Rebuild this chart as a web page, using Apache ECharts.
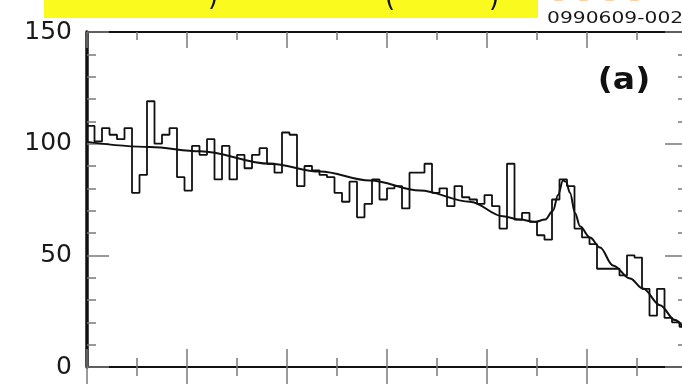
<!DOCTYPE html>
<html>
<head>
<meta charset="utf-8">
<script src="https://cdn.jsdelivr.net/npm/echarts@6/dist/echarts.min.js"></script>
<style>
  html, body { margin: 0; padding: 0; background: #ffffff; }
  #chart { width: 682px; height: 384px; }
</style>
</head>
<body>
<div id="chart"></div>
<script>
// Histogram: 80 equal bins across the x range, entries per bin
const binWidth = 0.075;
const counts = [
  108, 101, 107, 104, 102, 107, 78, 86, 119, 100,
  104, 107, 85, 79, 99, 95, 102, 84, 99, 84,
  95, 89, 95, 98, 91, 87, 105, 104, 81, 90,
  88, 86, 85, 78, 74, 83, 67, 73, 84, 75,
  80, 81, 71, 87, 87, 91, 78, 80, 72, 81,
  76, 75, 73, 77, 72, 62, 91, 66, 69, 65,
  59, 57, 75, 84, 81, 62, 58, 55, 44, 44,
  44, 41, 50, 49, 35, 23, 35, 22, 20, 18
];

// Fitted curve (background plus resonance peak)
const fitX = [0, 0.63, 1.13, 1.83, 2.33, 2.83, 3.33, 3.83, 4.16, 4.33, 4.48, 4.58,
              4.66, 4.71, 4.76, 4.79, 4.83, 4.88, 4.93, 5.03, 5.13, 5.26, 5.43,
              5.56, 5.73, 5.88, 6.0];
const fitY = [100.8, 98.5, 96.6, 91, 87.5, 83.5, 79, 74, 67.5, 66, 65, 66,
              70, 77, 83.5, 83, 78, 69, 63, 58, 53.5, 45.5, 39.6,
              35.1, 27.7, 21, 15];

const yTicks = [0, 50, 100, 150];
const plotCode = '0990609-002';
const panelLabel = '(a)';

// Step outline: one point at each bin's left edge, plus the closing edge
const histData = counts.map((c, i) => [i * binWidth, c]);
histData.push([counts.length * binWidth, counts[counts.length - 1]]);
const fitData = fitX.map((x, i) => [x, fitY[i]]);

const ink = '#111111';
const tickColor = '#7a7a7a';
const xMax = counts.length * binWidth;

const chart = echarts.init(document.getElementById('chart'), null, { renderer: 'canvas' });

const baseX = {
  type: 'value', min: 0, max: xMax, interval: 1, offset: 0,
  axisLabel: { show: false }, splitLine: { show: false }
};
const baseY = {
  type: 'value', min: yTicks[0], max: yTicks[yTicks.length - 1],
  interval: yTicks[1] - yTicks[0], offset: 0, splitLine: { show: false }
};

chart.setOption({
  backgroundColor: '#ffffff',
  animation: false,
  // the frame runs a few pixels past the right edge of the canvas
  grid: { left: 87, top: 32, width: 600, height: 335, outerBoundsMode: 'none' },
  xAxis: [
    // bottom edge, ticks pointing up into the frame
    Object.assign({}, baseX, {
      position: 'bottom',
      axisLine: { show: true, onZero: false, lineStyle: { color: ink, width: 2 } },
      axisTick: { show: true, inside: true, length: 18, lineStyle: { color: tickColor, width: 1.5 } },
      minorTick: { show: true, splitNumber: 2, length: 9, lineStyle: { color: tickColor, width: 1.5 } }
    }),
    // bottom edge, same ticks continuing below the frame
    Object.assign({}, baseX, {
      position: 'bottom',
      axisLine: { show: false, onZero: false },
      axisTick: { show: true, inside: false, length: 18, lineStyle: { color: tickColor, width: 1.5 } },
      minorTick: { show: true, splitNumber: 2, length: 9, lineStyle: { color: tickColor, width: 1.5 } }
    }),
    // top edge
    Object.assign({}, baseX, {
      position: 'top',
      axisLine: { show: true, onZero: false, lineStyle: { color: ink, width: 2 } },
      axisTick: { show: true, inside: true, length: 16, lineStyle: { color: tickColor, width: 1.5 } },
      minorTick: { show: true, splitNumber: 2, length: 8, lineStyle: { color: tickColor, width: 1.5 } }
    })
  ],
  yAxis: [
    Object.assign({}, baseY, {
      position: 'left',
      axisLine: { show: true, onZero: false, lineStyle: { color: ink, width: 3.5 } },
      axisTick: { show: true, inside: true, length: 22, lineStyle: { color: tickColor, width: 1.5 } },
      minorTick: { show: true, splitNumber: 5, length: 9, lineStyle: { color: tickColor, width: 1.5 } },
      axisLabel: {
        show: true, margin: 15, color: '#1a1a1a',
        fontFamily: 'DejaVu Sans', fontSize: 25
      }
    }),
    Object.assign({}, baseY, {
      position: 'right',
      axisLine: { show: true, onZero: false, lineStyle: { color: ink, width: 2 } },
      axisTick: { show: true, inside: true, length: 22, lineStyle: { color: tickColor, width: 1.5 } },
      minorTick: { show: true, splitNumber: 5, length: 9, lineStyle: { color: tickColor, width: 1.5 } },
      axisLabel: { show: false }
    })
  ],
  series: [
    {
      name: 'entries', type: 'line', step: 'end',
      xAxisIndex: 0, yAxisIndex: 0,
      data: histData, symbol: 'none',
      lineStyle: { color: ink, width: 1.8 }
    },
    {
      name: 'fit', type: 'line', smooth: 0.35, smoothMonotone: 'x',
      xAxisIndex: 0, yAxisIndex: 0,
      data: fitData, symbol: 'none',
      lineStyle: { color: ink, width: 2 }
    }
  ],
  graphic: [
    // banner across the top edge
    { type: 'rect', shape: { x: 44, y: 0, width: 494, height: 18 },
      style: { fill: '#fafa1e' }, z: 10 },
    { type: 'text', x: 213, y: -2, z: 11,
      style: { text: ')', fontFamily: 'DejaVu Sans', fontSize: 26, fill: '#111',
               textAlign: 'center', textVerticalAlign: 'middle' } },
    { type: 'text', x: 390, y: -1, z: 11,
      style: { text: '(', fontFamily: 'DejaVu Sans', fontSize: 26, fill: '#111',
               textAlign: 'center', textVerticalAlign: 'middle' } },
    { type: 'text', x: 494, y: -1, z: 11,
      style: { text: ')', fontFamily: 'DejaVu Sans', fontSize: 26, fill: '#111',
               textAlign: 'center', textVerticalAlign: 'middle' } },
    // faded lettering running off the top right corner
    { type: 'text', x: 571, y: 12, z: 9,
      style: { text: 'A', fontFamily: 'DejaVu Sans', fontWeight: 'bold', fontSize: 44,
               fill: '#fbd2a6', textAlign: 'center', textVerticalAlign: 'bottom' } },
    { type: 'text', x: 622, y: 12, z: 9,
      style: { text: 'A', fontFamily: 'DejaVu Sans', fontWeight: 'bold', fontSize: 44,
               fill: '#fbd2a6', textAlign: 'center', textVerticalAlign: 'bottom' } },
    // figure code, upper right
    { type: 'text', x: 547, y: 19, scaleX: 1.35, z: 11,
      style: { text: plotCode, fontFamily: 'DejaVu Sans', fontSize: 15, fill: '#1a1a1a',
               textAlign: 'left', textVerticalAlign: 'middle' } },
    // panel label
    { type: 'text', x: 624, y: 81, scaleX: 1.1, z: 11,
      style: { text: panelLabel, fontFamily: 'DejaVu Sans', fontWeight: 'bold', fontSize: 30,
               fill: '#111', textAlign: 'center', textVerticalAlign: 'middle' } }
  ]
});
</script>
</body>
</html>
